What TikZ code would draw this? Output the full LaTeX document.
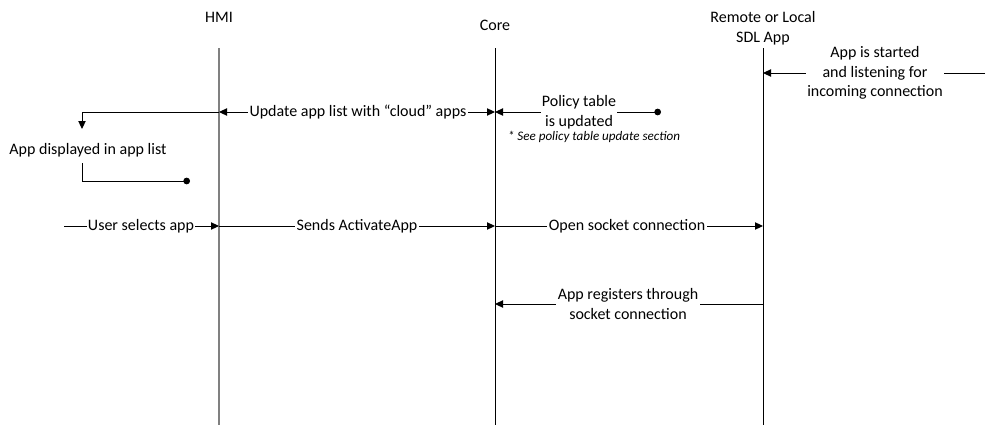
\documentclass[tikz,border=0pt]{standalone}
\usepackage{fontspec}
\setmainfont{Carlito}
\usetikzlibrary{arrows.meta}

\begin{document}
\begin{tikzpicture}[x=0.75pt, y=-0.75pt, line width=0.75pt,
		font=\fontsize{12}{14.6}\selectfont,
		lbl/.style={fill=white, inner sep=1pt, align=center},
		msg/.style={-{Triangle[length=6pt, width=5.5pt]}},
		dotmsg/.style={{Circle[length=5pt]}-{Triangle[length=6pt, width=5.5pt]}},
		both/.style={{Triangle[length=6pt, width=5.5pt]}-{Triangle[length=6pt, width=5.5pt]}},
		dotend/.style={-{Circle[length=5pt]}},
		hmiline/.style={gray, line width=1.1pt}]
	\useasboundingbox (0,0) rectangle (988,425);
	% lifelines
	\node (hmi) at (219,17) {HMI};
	\node (core) at (495,25) {Core};
	\node[align=center] (app) at (763,28) {Remote or Local\\SDL App};
	\draw[hmiline] (219,48) coordinate (hmi-t) -- (219,425) coordinate (hmi-b);
	\draw (495,48) coordinate (core-t) -- (495,425) coordinate (core-b);
	\draw (763,48) coordinate (app-t) -- (763,425) coordinate (app-b);
	% app started
	\coordinate (start) at (985,73);
	\draw[msg] (start) -- (app-t |- start);
	\node[lbl] (started) at (875,73) {App is started\\and listening for\\incoming connection};
	% policy table
	\coordinate (pt) at (661,112);
	\draw[dotmsg] (pt) -- (core-t |- pt);
	\node[lbl] (ptupd) at (579,112) {Policy table\\is updated};
	\node[font=\fontsize{9.8}{11}\selectfont\itshape] (ptnote) at (594,137) {* See policy table update section};
	% update app list
	\draw[both] (hmi-t |- pt) -- (core-t |- pt);
	\node[lbl] (upd) at (358,112) {Update app list with “cloud” apps};
	\coordinate (dispin) at (82,129);
	\draw[msg] (hmi-t |- pt) -| (dispin);
	\node (disp) at (88,150) {App displayed in app list};
	\coordinate (dispout) at (82,163);
	\coordinate (dispdot) at (190,181);
	\draw[dotend] (dispout) |- (dispdot);
	% activation
	\coordinate (usr) at (64,226);
	\draw[msg] (usr) -- (hmi-t |- usr);
	\node[lbl] (sel) at (141,226) {User selects app};
	\draw[msg] (hmi-t |- usr) -- (core-t |- usr);
	\node[lbl] (act) at (357,226) {Sends ActivateApp};
	\draw[msg] (core-t |- usr) -- (app-t |- usr);
	\node[lbl] (sock) at (627,226) {Open socket connection};
	% registration
	\coordinate (reg) at (763,304);
	\draw[msg] (reg) -- (core-t |- reg);
	\node[lbl] (regs) at (628,304) {App registers through\\socket connection};
\end{tikzpicture}
\end{document}
